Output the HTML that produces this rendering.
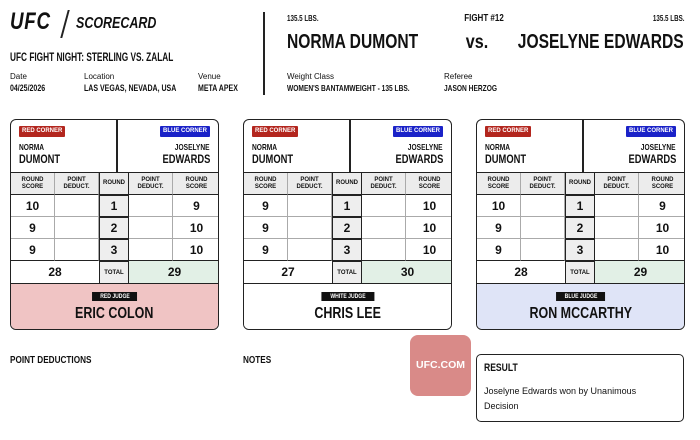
<!DOCTYPE html>
<html><head><meta charset="utf-8"><style>
*{margin:0;padding:0;box-sizing:border-box}
body{width:700px;height:440px;background:#fff;position:relative;overflow:hidden;font-family:"Liberation Sans",sans-serif;color:#111}
.a{position:absolute;white-space:nowrap}
.b{font-weight:bold}
.cl{transform:scaleX(.78);transform-origin:left center}
.cr{transform:scaleX(.78);transform-origin:right center}
.sq{display:inline-block;transform:scaleX(.78)}
.card{position:absolute;top:119px;width:209px;height:211px;border:1.5px solid #222;border-radius:6px;overflow:hidden}
.cell{position:absolute;display:flex;align-items:center;justify-content:center;text-align:center;font-weight:bold;border-right:1px solid #aaa;border-bottom:1px solid #aaa}
.hd{background:#ececec;font-size:6px;line-height:7px;border-bottom:1.5px solid #222}
.n{font-size:12px}
.rd{background:#eee;border:1.3px solid #222}
.badge{position:absolute;top:6px;height:11px;font-size:6px;line-height:11px;color:#fff;font-weight:bold;padding:0 3px;border-radius:1px}
.jb{position:absolute;left:50%;transform:translateX(-50%);background:#111;color:#fff;font-size:6.5px;font-weight:bold;padding:1px 4px;top:8px}
.jn{position:absolute;width:100%;text-align:center;top:21px;font-size:16px;font-weight:bold}
</style></head><body>
<div class="a b cl" style="left:10px;top:8px;font-size:24px;font-style:italic;letter-spacing:1px">UFC</div>
<div class="a" style="left:64px;top:10px;width:1.5px;height:28px;background:#222;transform:skewX(-15deg)"></div>
<div class="a b cl" style="left:76px;top:15px;font-size:16px;font-style:italic">SCORECARD</div>
<div class="a b cl" style="left:10px;top:52px;font-size:11.5px;transform:scaleX(.72)">UFC FIGHT NIGHT: STERLING VS. ZALAL</div>
<div class="a" style="left:10px;top:72px;font-size:8px">Date</div>
<div class="a b cl" style="left:10px;top:83px;font-size:9px">04/25/2026</div>
<div class="a" style="left:84px;top:72px;font-size:8px">Location</div>
<div class="a b cl" style="left:84px;top:83px;font-size:9px">LAS VEGAS, NEVADA, USA</div>
<div class="a" style="left:198px;top:72px;font-size:8px">Venue</div>
<div class="a b cl" style="left:198px;top:83px;font-size:9px">META APEX</div>
<div class="a" style="left:263px;top:12px;width:1.5px;height:83px;background:#222"></div>
<div class="a b cl" style="left:287px;top:14px;font-size:8px">135.5 LBS.</div>
<div class="a b cl" style="left:287px;top:31px;font-size:20px">NORMA DUMONT</div>
<div class="a b" style="left:484px;top:13px;font-size:10px;transform:translateX(-50%) scaleX(.8)">FIGHT #12</div>
<div class="a b" style="left:477px;top:32px;font-size:19px;transform:translateX(-50%) scaleX(.85)">vs.</div>
<div class="a b cr" style="right:16px;top:14px;font-size:8px">135.5 LBS.</div>
<div class="a b cr" style="right:16px;top:31px;font-size:20px">JOSELYNE EDWARDS</div>
<div class="a" style="left:287px;top:72px;font-size:8px">Weight Class</div>
<div class="a b cl" style="left:287px;top:83px;font-size:8.5px">WOMEN'S BANTAMWEIGHT - 135 LBS.</div>
<div class="a" style="left:444px;top:72px;font-size:8px">Referee</div>
<div class="a b cl" style="left:444px;top:83px;font-size:8.5px">JASON HERZOG</div>

<div class="card" style="left:10px">
 <div class="a" style="left:105px;top:0;width:1.5px;height:53px;background:#222"></div>
 <div class="a" style="left:0;top:52px;width:100%;height:1.5px;background:#222"></div>
 <div class="badge" style="left:8px;background:#b3261e">RED CORNER</div>
 <div class="badge" style="right:8px;background:#1a22c8">BLUE CORNER</div>
 <div class="a b cl" style="left:8px;top:22px;font-size:8.5px">NORMA</div>
 <div class="a b cl" style="left:8px;top:32px;font-size:12px">DUMONT</div>
 <div class="a b cr" style="right:8px;top:22px;font-size:8.5px">JOSELYNE</div>
 <div class="a b cr" style="right:8px;top:32px;font-size:12px">EDWARDS</div>
 <div class="cell hd" style="left:0;top:53px;width:44px;height:22px">ROUND<br>SCORE</div>
 <div class="cell hd" style="left:44px;top:53px;width:44px;height:22px">POINT<br>DEDUCT.</div>
 <div class="cell hd" style="left:88px;top:53px;width:30px;height:22px;border-left:1.3px solid #222;border-right:1.3px solid #222">ROUND</div>
 <div class="cell hd" style="left:118px;top:53px;width:44px;height:22px">POINT<br>DEDUCT.</div>
 <div class="cell hd" style="left:162px;top:53px;width:47px;height:22px;border-right:0">ROUND<br>SCORE</div>
 <div class="cell n" style="left:0;top:75px;width:44px;height:22px">10</div><div class="cell" style="left:44px;top:75px;width:44px;height:22px"></div><div class="cell n rd" style="left:88px;top:75px;width:30px;height:22px">1</div><div class="cell" style="left:118px;top:75px;width:44px;height:22px"></div><div class="cell n" style="left:162px;top:75px;width:47px;height:22px;border-right:0">9</div>
 <div class="cell n" style="left:0;top:97px;width:44px;height:22px">9</div><div class="cell" style="left:44px;top:97px;width:44px;height:22px"></div><div class="cell n rd" style="left:88px;top:97px;width:30px;height:22px">2</div><div class="cell" style="left:118px;top:97px;width:44px;height:22px"></div><div class="cell n" style="left:162px;top:97px;width:47px;height:22px;border-right:0">10</div>
 <div class="cell n" style="left:0;top:119px;width:44px;height:22px;border-bottom:1.5px solid #222">9</div><div class="cell" style="left:44px;top:119px;width:44px;height:22px;border-bottom:1.5px solid #222"></div><div class="cell n rd" style="left:88px;top:119px;width:30px;height:22px">3</div><div class="cell" style="left:118px;top:119px;width:44px;height:22px;border-bottom:1.5px solid #222"></div><div class="cell n" style="left:162px;top:119px;width:47px;height:22px;border-right:0;border-bottom:1.5px solid #222">10</div>
 <div class="cell n" style="left:0;top:141px;width:88px;height:23px;border-bottom:1.5px solid #222;border-right:0">28</div><div class="cell rd" style="left:88px;top:141px;width:30px;height:23px;font-size:6px">TOTAL</div><div class="cell n" style="left:118px;top:141px;width:91px;height:23px;background:#e2f0e6;border-right:0;border-bottom:1.5px solid #222">29</div>
 <div class="a" style="left:0;top:164px;width:100%;height:47px;background:#f0c4c4"><div class="jb"><span class="sq">RED JUDGE</span></div><div class="jn"><span class="sq">ERIC COLON</span></div></div>
</div>

<div class="card" style="left:243px">
 <div class="a" style="left:105px;top:0;width:1.5px;height:53px;background:#222"></div>
 <div class="a" style="left:0;top:52px;width:100%;height:1.5px;background:#222"></div>
 <div class="badge" style="left:8px;background:#b3261e">RED CORNER</div>
 <div class="badge" style="right:8px;background:#1a22c8">BLUE CORNER</div>
 <div class="a b cl" style="left:8px;top:22px;font-size:8.5px">NORMA</div>
 <div class="a b cl" style="left:8px;top:32px;font-size:12px">DUMONT</div>
 <div class="a b cr" style="right:8px;top:22px;font-size:8.5px">JOSELYNE</div>
 <div class="a b cr" style="right:8px;top:32px;font-size:12px">EDWARDS</div>
 <div class="cell hd" style="left:0;top:53px;width:44px;height:22px">ROUND<br>SCORE</div>
 <div class="cell hd" style="left:44px;top:53px;width:44px;height:22px">POINT<br>DEDUCT.</div>
 <div class="cell hd" style="left:88px;top:53px;width:30px;height:22px;border-left:1.3px solid #222;border-right:1.3px solid #222">ROUND</div>
 <div class="cell hd" style="left:118px;top:53px;width:44px;height:22px">POINT<br>DEDUCT.</div>
 <div class="cell hd" style="left:162px;top:53px;width:47px;height:22px;border-right:0">ROUND<br>SCORE</div>
 <div class="cell n" style="left:0;top:75px;width:44px;height:22px">9</div><div class="cell" style="left:44px;top:75px;width:44px;height:22px"></div><div class="cell n rd" style="left:88px;top:75px;width:30px;height:22px">1</div><div class="cell" style="left:118px;top:75px;width:44px;height:22px"></div><div class="cell n" style="left:162px;top:75px;width:47px;height:22px;border-right:0">10</div>
 <div class="cell n" style="left:0;top:97px;width:44px;height:22px">9</div><div class="cell" style="left:44px;top:97px;width:44px;height:22px"></div><div class="cell n rd" style="left:88px;top:97px;width:30px;height:22px">2</div><div class="cell" style="left:118px;top:97px;width:44px;height:22px"></div><div class="cell n" style="left:162px;top:97px;width:47px;height:22px;border-right:0">10</div>
 <div class="cell n" style="left:0;top:119px;width:44px;height:22px;border-bottom:1.5px solid #222">9</div><div class="cell" style="left:44px;top:119px;width:44px;height:22px;border-bottom:1.5px solid #222"></div><div class="cell n rd" style="left:88px;top:119px;width:30px;height:22px">3</div><div class="cell" style="left:118px;top:119px;width:44px;height:22px;border-bottom:1.5px solid #222"></div><div class="cell n" style="left:162px;top:119px;width:47px;height:22px;border-right:0;border-bottom:1.5px solid #222">10</div>
 <div class="cell n" style="left:0;top:141px;width:88px;height:23px;border-bottom:1.5px solid #222;border-right:0">27</div><div class="cell rd" style="left:88px;top:141px;width:30px;height:23px;font-size:6px">TOTAL</div><div class="cell n" style="left:118px;top:141px;width:91px;height:23px;background:#e2f0e6;border-right:0;border-bottom:1.5px solid #222">30</div>
 <div class="a" style="left:0;top:164px;width:100%;height:47px;background:#fff"><div class="jb"><span class="sq">WHITE JUDGE</span></div><div class="jn"><span class="sq">CHRIS LEE</span></div></div>
</div>

<div class="card" style="left:476px">
 <div class="a" style="left:105px;top:0;width:1.5px;height:53px;background:#222"></div>
 <div class="a" style="left:0;top:52px;width:100%;height:1.5px;background:#222"></div>
 <div class="badge" style="left:8px;background:#b3261e">RED CORNER</div>
 <div class="badge" style="right:8px;background:#1a22c8">BLUE CORNER</div>
 <div class="a b cl" style="left:8px;top:22px;font-size:8.5px">NORMA</div>
 <div class="a b cl" style="left:8px;top:32px;font-size:12px">DUMONT</div>
 <div class="a b cr" style="right:8px;top:22px;font-size:8.5px">JOSELYNE</div>
 <div class="a b cr" style="right:8px;top:32px;font-size:12px">EDWARDS</div>
 <div class="cell hd" style="left:0;top:53px;width:44px;height:22px">ROUND<br>SCORE</div>
 <div class="cell hd" style="left:44px;top:53px;width:44px;height:22px">POINT<br>DEDUCT.</div>
 <div class="cell hd" style="left:88px;top:53px;width:30px;height:22px;border-left:1.3px solid #222;border-right:1.3px solid #222">ROUND</div>
 <div class="cell hd" style="left:118px;top:53px;width:44px;height:22px">POINT<br>DEDUCT.</div>
 <div class="cell hd" style="left:162px;top:53px;width:47px;height:22px;border-right:0">ROUND<br>SCORE</div>
 <div class="cell n" style="left:0;top:75px;width:44px;height:22px">10</div><div class="cell" style="left:44px;top:75px;width:44px;height:22px"></div><div class="cell n rd" style="left:88px;top:75px;width:30px;height:22px">1</div><div class="cell" style="left:118px;top:75px;width:44px;height:22px"></div><div class="cell n" style="left:162px;top:75px;width:47px;height:22px;border-right:0">9</div>
 <div class="cell n" style="left:0;top:97px;width:44px;height:22px">9</div><div class="cell" style="left:44px;top:97px;width:44px;height:22px"></div><div class="cell n rd" style="left:88px;top:97px;width:30px;height:22px">2</div><div class="cell" style="left:118px;top:97px;width:44px;height:22px"></div><div class="cell n" style="left:162px;top:97px;width:47px;height:22px;border-right:0">10</div>
 <div class="cell n" style="left:0;top:119px;width:44px;height:22px;border-bottom:1.5px solid #222">9</div><div class="cell" style="left:44px;top:119px;width:44px;height:22px;border-bottom:1.5px solid #222"></div><div class="cell n rd" style="left:88px;top:119px;width:30px;height:22px">3</div><div class="cell" style="left:118px;top:119px;width:44px;height:22px;border-bottom:1.5px solid #222"></div><div class="cell n" style="left:162px;top:119px;width:47px;height:22px;border-right:0;border-bottom:1.5px solid #222">10</div>
 <div class="cell n" style="left:0;top:141px;width:88px;height:23px;border-bottom:1.5px solid #222;border-right:0">28</div><div class="cell rd" style="left:88px;top:141px;width:30px;height:23px;font-size:6px">TOTAL</div><div class="cell n" style="left:118px;top:141px;width:91px;height:23px;background:#e2f0e6;border-right:0;border-bottom:1.5px solid #222">29</div>
 <div class="a" style="left:0;top:164px;width:100%;height:47px;background:#dfe4f7"><div class="jb"><span class="sq">BLUE JUDGE</span></div><div class="jn"><span class="sq">RON MCCARTHY</span></div></div>
</div>

<div class="a b cl" style="left:10px;top:354px;font-size:10.5px">POINT DEDUCTIONS</div>
<div class="a b cl" style="left:243px;top:354px;font-size:10.5px">NOTES</div>
<div class="a" style="left:410px;top:335px;width:61px;height:61px;background:#d98a88;border-radius:8px;color:#fff;font-weight:bold;font-size:10.5px;line-height:61px;text-align:center">UFC.COM</div>
<div class="a" style="left:476px;top:354px;width:208px;height:68px;border:1.5px solid #222;border-radius:5px">
 <div class="a b cl" style="left:7px;top:7px;font-size:11px">RESULT</div>
 <div class="a" style="left:7px;top:29px;font-size:9px;line-height:15px;white-space:normal;width:165px">Joselyne Edwards won by Unanimous Decision</div>
</div>
</body></html>
